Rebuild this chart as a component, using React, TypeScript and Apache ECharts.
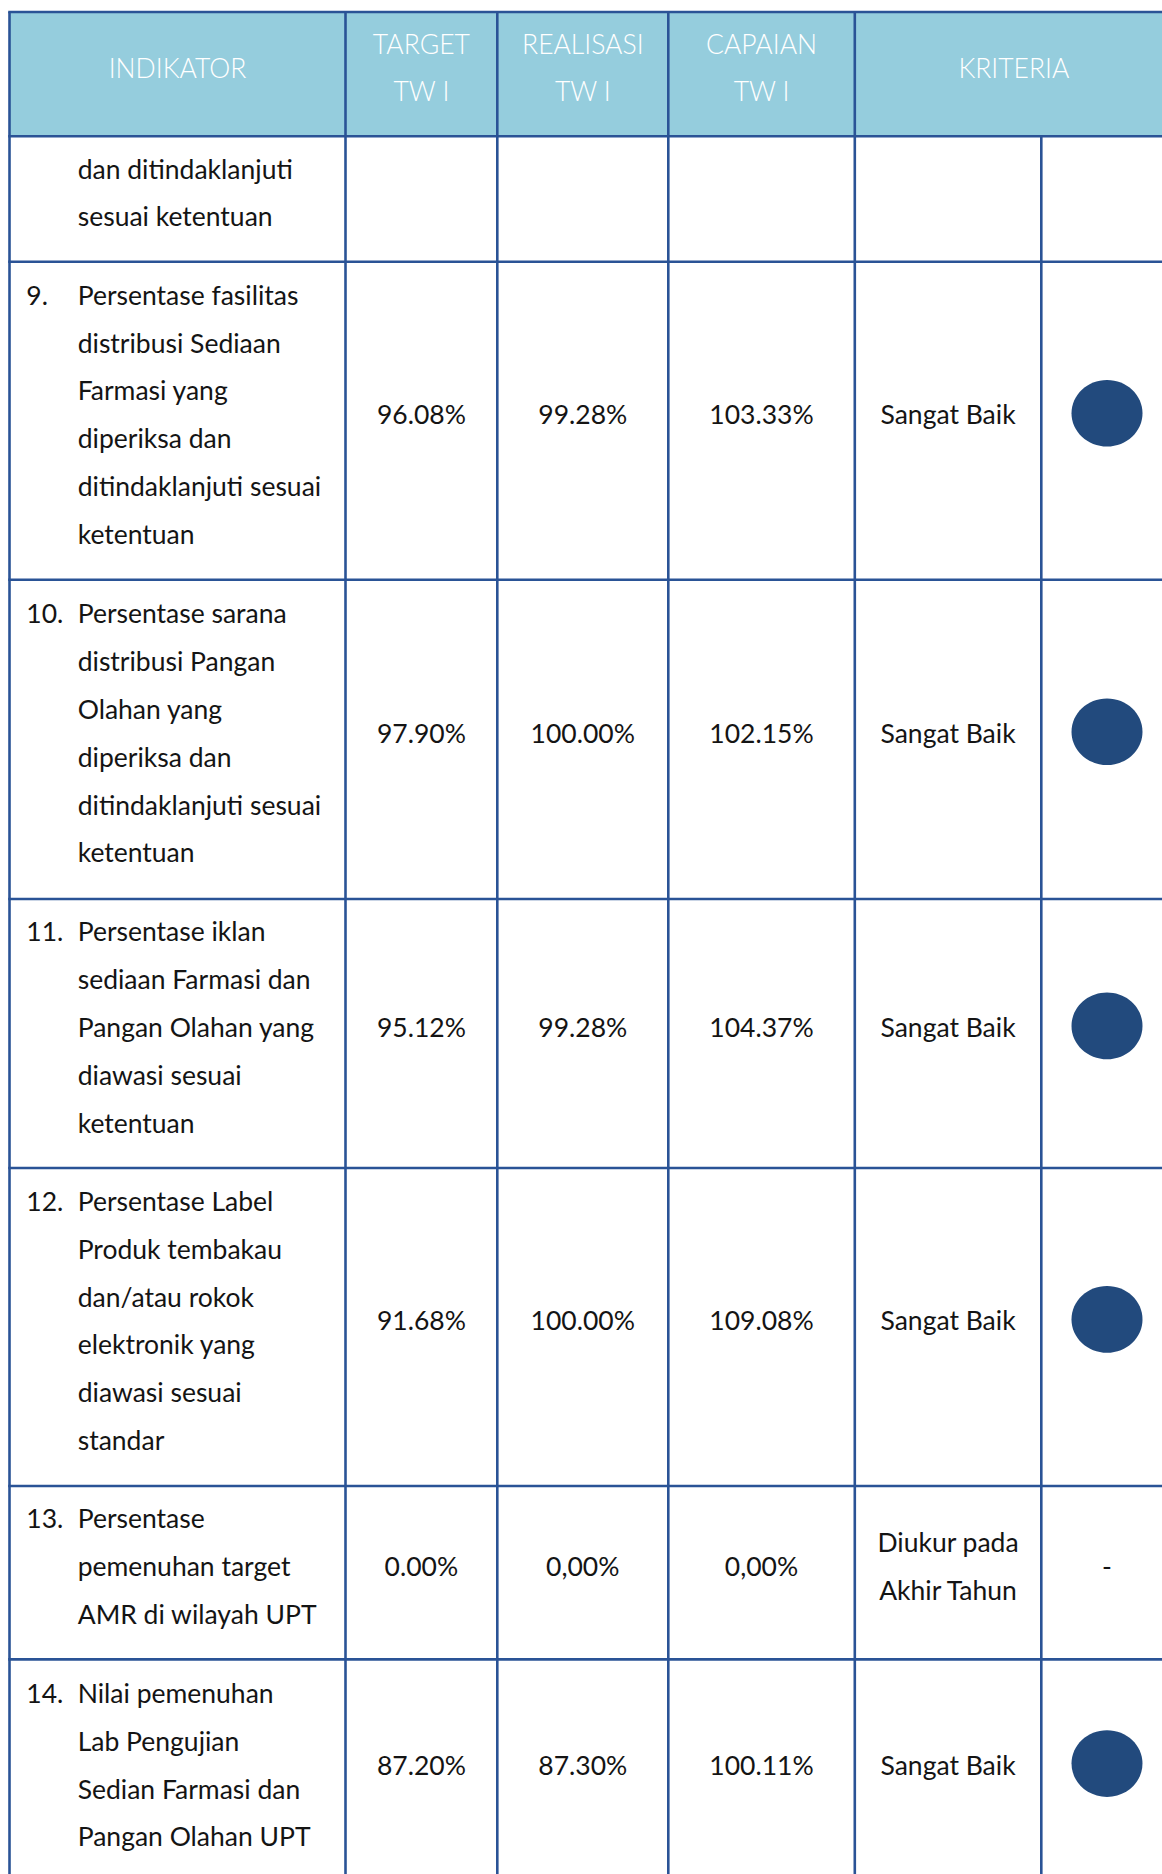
import React, { useEffect, useRef } from "react";
import * as echarts from "echarts";

// ---- data ----
const headerLabels: string[][] = [["INDIKATOR"], ["TARGET", "TW I"], ["REALISASI", "TW I"], ["CAPAIAN", "TW I"], ["KRITERIA"]];
const indicatorNumbers: string[] = ["", "9.", "10.", "11.", "12.", "13.", "14."];
const indicatorTexts: string[][] = [
  ["dan ditindaklanjuti", "sesuai ketentuan"],
  ["Persentase fasilitas", "distribusi Sediaan", "Farmasi yang", "diperiksa dan", "ditindaklanjuti sesuai", "ketentuan"],
  ["Persentase sarana", "distribusi Pangan", "Olahan yang", "diperiksa dan", "ditindaklanjuti sesuai", "ketentuan"],
  ["Persentase iklan", "sediaan Farmasi dan", "Pangan Olahan yang", "diawasi sesuai", "ketentuan"],
  ["Persentase Label", "Produk tembakau", "dan/atau rokok", "elektronik yang", "diawasi sesuai", "standar"],
  ["Persentase", "pemenuhan target", "AMR di wilayah UPT"],
  ["Nilai pemenuhan", "Lab Pengujian", "Sedian Farmasi dan", "Pangan Olahan UPT"],
];
const targetValues: string[] = ["", "96.08%", "97.90%", "95.12%", "91.68%", "0.00%", "87.20%"];
const realisasiValues: string[] = ["", "99.28%", "100.00%", "99.28%", "100.00%", "0,00%", "87.30%"];
const capaianValues: string[] = ["", "103.33%", "102.15%", "104.37%", "109.08%", "0,00%", "100.11%"];
const kriteriaValues: string[][] = [[], ["Sangat Baik"], ["Sangat Baik"], ["Sangat Baik"], ["Sangat Baik"], ["Diukur pada", "Akhir Tahun"], ["Sangat Baik"]];
const markTypes: string[] = ["", "dot", "dot", "dot", "dot", "dash", "dot"];

// ---- layout ----
const W = 1162;
const H = 1874;
const LEFT = 9.5;
const TOP = 12;
const HEADER_BOTTOM = 136.3;
const colX = [LEFT, 345.5, 497.3, 668.3, 854.8, 1041.3, 1173];
const rowBounds = [HEADER_BOTTOM, 261.8, 579.8, 899, 1168, 1486, 1659.4, 1883];
const LINE_H = 47.8;
const V_OFF = -6.6;
const BORDER = "#2A5396";
const HEADER_BG = "#95CDDD";
const DOT = "#224A7D";
const TEXT = "#141414";
const FONT = "Lato";
const FS = 26.5;

function txt(text: string, x: number, y: number, align: string, fill: string, weight: number = 400) {
  return {
    type: "text",
    silent: true,
    style: {
      text,
      x,
      y,
      fill,
      fontFamily: FONT,
      fontSize: FS,
      fontWeight: weight,
      textAlign: align,
      textVerticalAlign: "middle",
      verticalAlign: "middle",
    },
  };
}

function lines(arr: string[], x: number, mid: number, align: string, fill: string, weight: number = 400) {
  const n = arr.length;
  return arr.map((s, j) => txt(s, x, mid + (j - (n - 1) / 2) * LINE_H, align, fill, weight));
}

function buildGraphic() {
  const els: any[] = [];
  els.push({ type: "rect", silent: true, shape: { x: LEFT, y: TOP, width: W - LEFT, height: HEADER_BOTTOM - TOP }, style: { fill: HEADER_BG } });

  // header texts
  const headerMid = (TOP + HEADER_BOTTOM) / 2 + V_OFF;
  const headerCenters = [
    (colX[0] + colX[1]) / 2,
    (colX[1] + colX[2]) / 2,
    (colX[2] + colX[3]) / 2,
    (colX[3] + colX[4]) / 2,
    (colX[4] + colX[6]) / 2,
  ];
  headerLabels.forEach((lab, i) => els.push(...lines(lab, headerCenters[i], headerMid, "center", "#ffffff", 300)));

  // body rows
  for (let r = 0; r < indicatorTexts.length; r++) {
    const top = rowBounds[r];
    const bot = rowBounds[r + 1];
    const mid = (top + bot) / 2 + V_OFF;
    const n = indicatorTexts[r].length;
    const firstY = mid - ((n - 1) / 2) * LINE_H;
    if (indicatorNumbers[r]) els.push(txt(indicatorNumbers[r], 26.3, firstY, "left", TEXT));
    els.push(...lines(indicatorTexts[r], 77.7, mid, "left", TEXT));
    if (targetValues[r]) els.push(txt(targetValues[r], (colX[1] + colX[2]) / 2, mid, "center", TEXT));
    if (realisasiValues[r]) els.push(txt(realisasiValues[r], (colX[2] + colX[3]) / 2, mid, "center", TEXT));
    if (capaianValues[r]) els.push(txt(capaianValues[r], (colX[3] + colX[4]) / 2, mid, "center", TEXT));
    els.push(...lines(kriteriaValues[r], (colX[4] + colX[5]) / 2, mid, "center", TEXT));
    const mx = 1107;
    if (markTypes[r] === "dot") {
      els.push({ type: "ellipse", silent: true, shape: { cx: mx, cy: mid - 1, rx: 35.5, ry: 33.3 }, style: { fill: DOT } });
    } else if (markTypes[r] === "dash") {
      els.push(txt("-", mx, mid, "center", TEXT));
    }
  }

  // borders
  const lw = 2.6;
  const hl = (y: number) => els.push({ type: "line", silent: true, shape: { x1: LEFT - lw / 2, y1: y, x2: W, y2: y }, style: { stroke: BORDER, lineWidth: lw } });
  const vl = (x: number, y1: number, y2: number) => els.push({ type: "line", silent: true, shape: { x1: x, y1, x2: x, y2 }, style: { stroke: BORDER, lineWidth: lw } });
  hl(TOP);
  rowBounds.forEach((y) => hl(y));
  for (let c = 0; c < 5; c++) vl(colX[c], TOP, H);
  vl(colX[5], HEADER_BOTTOM, H);
  return els;
}

export default function App() {
  const ref = useRef<HTMLDivElement>(null);
  useEffect(() => {
    if (!ref.current) return;
    const chart = echarts.init(ref.current, undefined, { renderer: "svg" });
    chart.setOption({
      animation: false,
      backgroundColor: "#ffffff",
      graphic: { elements: buildGraphic() },
    });
    return () => chart.dispose();
  }, []);
  return <div ref={ref} style={{ position: "absolute", left: 0, top: 0, width: W, height: H }} />;
}
